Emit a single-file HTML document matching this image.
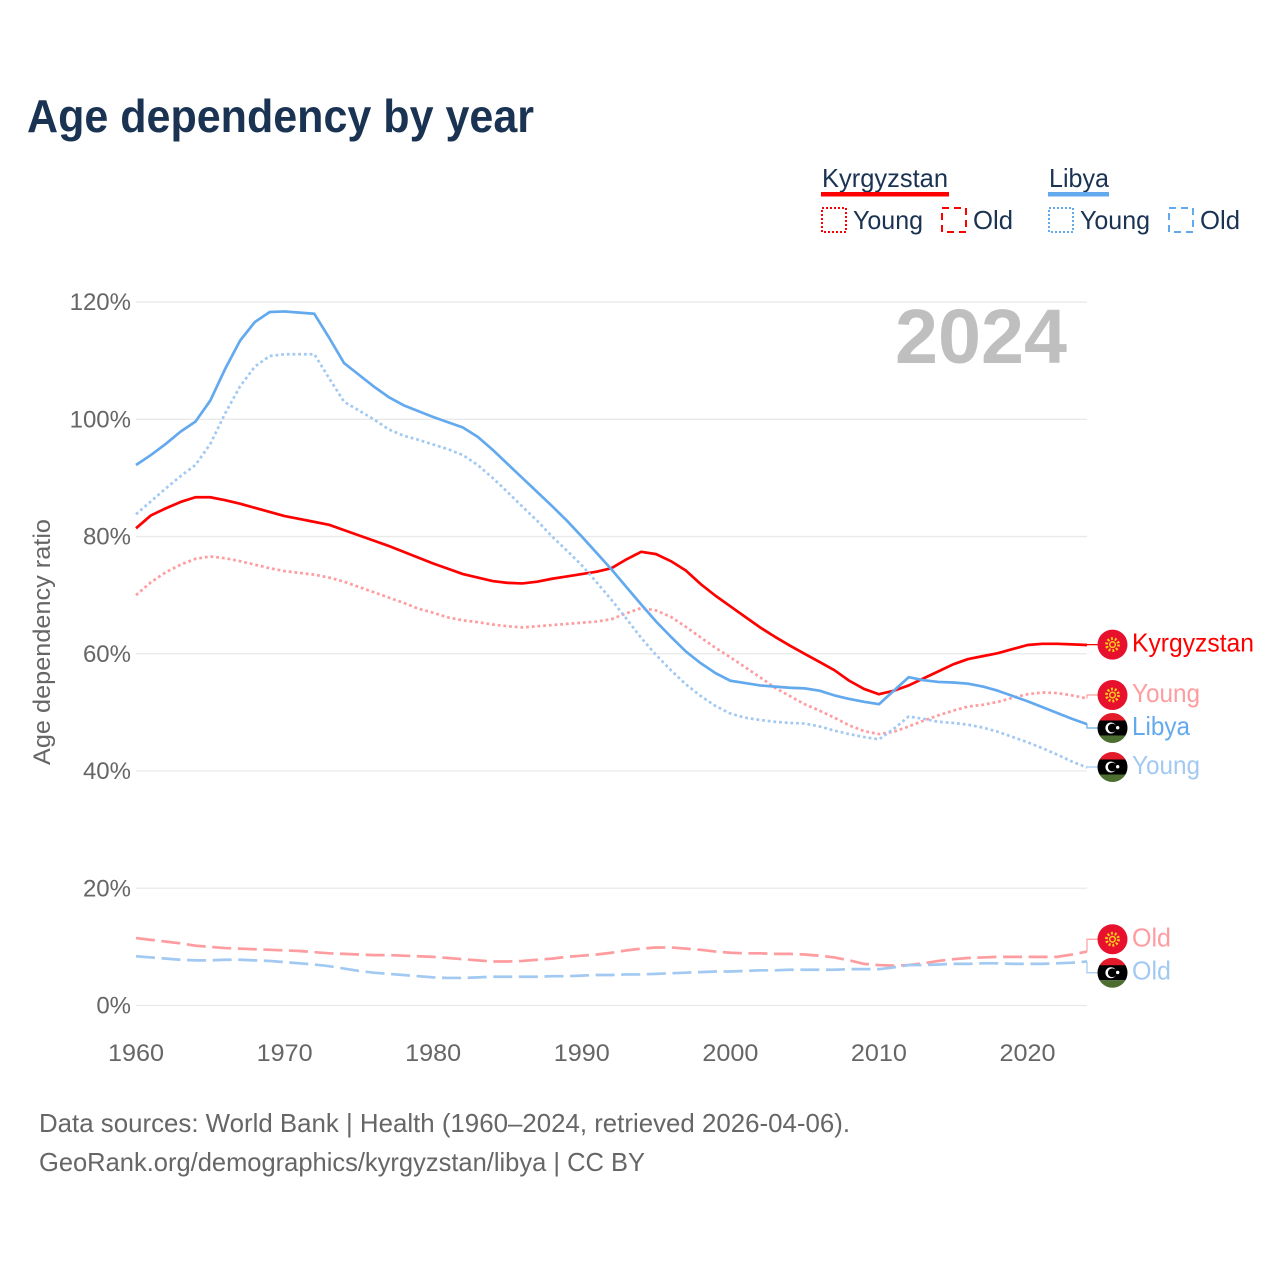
<!DOCTYPE html>
<html lang="en">
<head>
<meta charset="utf-8">
<title>Age dependency by year</title>
<style>
html,body{margin:0;padding:0;background:#fff;}
svg{display:block;font-family:"Liberation Sans",sans-serif;}
</style>
</head>
<body>
<svg id="chart" width="1280" height="1280" viewBox="0 0 1280 1280" xmlns="http://www.w3.org/2000/svg">
  <defs>
    <clipPath id="flag-clip"><circle cx="0" cy="0" r="15"/></clipPath>
    <g id="flag-kg">
      <circle r="15" fill="#e8112d"/>
      <circle r="6" fill="none" stroke="#ffcf1f" stroke-width="2.8" stroke-dasharray="1.9 1.9"/>
      <circle r="2.8" fill="none" stroke="#ffcf1f" stroke-width="1.5"/>
    </g>
    <g id="flag-ly">
      <g clip-path="url(#flag-clip)">
        <rect x="-15" y="-15" width="30" height="8" fill="#e31b2b"/>
        <rect x="-15" y="-7.5" width="30" height="15" fill="#000"/>
        <rect x="-15" y="7.5" width="30" height="8" fill="#4c6e31"/>
        <circle cx="-1.6" cy="0" r="5.5" fill="#fff"/>
        <circle cx="-0.2" cy="0" r="4.4" fill="#000"/>
        <circle cx="5.2" cy="-0.3" r="1.7" fill="#fff"/>
      </g>
    </g>
  </defs>

  <text x="27" y="132" font-size="46" font-weight="700" fill="#1a3353" textLength="507" lengthAdjust="spacingAndGlyphs">Age dependency by year</text>

  <g font-size="26" fill="#1a3353">
    <text x="822" y="187" textLength="126" lengthAdjust="spacingAndGlyphs">Kyrgyzstan</text>
    <rect x="821" y="192" width="128" height="4.5" fill="#ff0000"/>
    <rect x="822" y="208" width="24" height="24" fill="none" stroke="#ff0000" stroke-width="2" stroke-dasharray="2 2"/>
    <text x="853" y="229" textLength="70" lengthAdjust="spacingAndGlyphs">Young</text>
    <rect x="942" y="208" width="24" height="24" fill="none" stroke="#ff0000" stroke-width="2" stroke-dasharray="7 5"/>
    <text x="973" y="229" textLength="40" lengthAdjust="spacingAndGlyphs">Old</text>
    <text x="1049" y="187" textLength="60" lengthAdjust="spacingAndGlyphs">Libya</text>
    <rect x="1048" y="192" width="61" height="4.5" fill="#63a9ee"/>
    <rect x="1049" y="208" width="24" height="24" fill="none" stroke="#63a9ee" stroke-width="2" stroke-dasharray="2 2"/>
    <text x="1080" y="229" textLength="70" lengthAdjust="spacingAndGlyphs">Young</text>
    <rect x="1169" y="208" width="24" height="24" fill="none" stroke="#63a9ee" stroke-width="2" stroke-dasharray="7 5"/>
    <text x="1200" y="229" textLength="40" lengthAdjust="spacingAndGlyphs">Old</text>
  </g>

  <g id="grid"></g>
  <g id="y-ticks"></g>
  <g id="x-ticks"></g>

  <text transform="translate(50,642) rotate(-90)" text-anchor="middle" font-size="24" fill="#666666" textLength="246" lengthAdjust="spacingAndGlyphs">Age dependency ratio</text>

  <text x="895" y="363" font-size="77" font-weight="700" fill="#bfbfbf" textLength="172" lengthAdjust="spacingAndGlyphs">2024</text>

  <g id="series"></g>
  <g id="end-labels"></g>

  <text x="39" y="1132" font-size="26" fill="#666666" textLength="811" lengthAdjust="spacingAndGlyphs">Data sources: World Bank | Health (1960–2024, retrieved 2026-04-06).</text>
  <text x="39" y="1171" font-size="26" fill="#666666" textLength="606" lengthAdjust="spacingAndGlyphs">GeoRank.org/demographics/kyrgyzstan/libya | CC BY</text>
</svg>

<script>
const years = [1960,1961,1962,1963,1964,1965,1966,1967,1968,1969,1970,1971,1972,1973,1974,1975,1976,1977,1978,1979,1980,1981,1982,1983,1984,1985,1986,1987,1988,1989,1990,1991,1992,1993,1994,1995,1996,1997,1998,1999,2000,2001,2002,2003,2004,2005,2006,2007,2008,2009,2010,2011,2012,2013,2014,2015,2016,2017,2018,2019,2020,2021,2022,2023,2024];
const yTickValues = [0,20,40,60,80,100,120];
const xTickValues = [1960,1970,1980,1990,2000,2010,2020];

const kyrgyzstanTotal = [81.4,83.6,84.8,85.9,86.7,86.7,86.2,85.6,84.9,84.2,83.5,83.0,82.5,82.0,81.1,80.2,79.3,78.4,77.4,76.4,75.4,74.5,73.6,73.0,72.4,72.1,72.0,72.3,72.8,73.2,73.6,74.0,74.6,76.1,77.4,77.0,75.8,74.2,71.9,69.9,68.1,66.3,64.5,62.9,61.4,60.0,58.6,57.2,55.4,54.0,53.1,53.7,54.6,55.8,57.0,58.2,59.1,59.6,60.1,60.8,61.5,61.7,61.7,61.6,61.5];
const kyrgyzstanYoung = [70.0,72.2,73.9,75.2,76.2,76.6,76.3,75.8,75.2,74.6,74.1,73.8,73.5,73.0,72.3,71.4,70.5,69.6,68.7,67.7,67.0,66.2,65.7,65.4,65.0,64.7,64.5,64.7,64.9,65.1,65.3,65.5,65.9,66.9,67.8,67.4,66.3,64.6,62.8,61.0,59.4,57.7,56.0,54.2,52.8,51.4,50.3,49.1,47.8,46.8,46.3,46.7,47.6,48.6,49.5,50.3,51.0,51.3,51.8,52.5,53.1,53.4,53.3,52.9,52.4];
const kyrgyzstanOld = [11.5,11.2,10.9,10.6,10.2,10.0,9.8,9.7,9.6,9.5,9.4,9.3,9.1,8.9,8.8,8.7,8.6,8.6,8.5,8.4,8.3,8.1,7.9,7.7,7.5,7.5,7.6,7.8,8.0,8.3,8.5,8.7,9.0,9.4,9.7,9.9,9.9,9.7,9.5,9.2,9.0,8.9,8.9,8.8,8.8,8.7,8.5,8.2,7.7,7.1,6.9,6.8,6.9,7.2,7.6,7.9,8.1,8.2,8.3,8.3,8.3,8.3,8.3,8.7,9.2];
const libyaTotal = [92.2,93.9,95.8,97.9,99.6,103.2,108.6,113.4,116.6,118.3,118.4,118.2,118.0,113.9,109.6,107.6,105.6,103.8,102.4,101.4,100.4,99.5,98.6,97.0,94.8,92.4,90.0,87.6,85.2,82.7,80.0,77.2,74.4,71.4,68.4,65.5,62.9,60.4,58.4,56.7,55.4,55.0,54.6,54.4,54.2,54.1,53.7,52.9,52.3,51.8,51.4,53.7,56.0,55.5,55.2,55.1,54.9,54.4,53.7,52.8,51.9,50.9,49.9,48.9,48.0];
const libyaYoung = [83.8,86.0,88.2,90.3,92.2,95.8,101.0,105.6,109.0,110.8,111.1,111.1,111.1,107.0,103.0,101.5,100.0,98.3,97.2,96.5,95.7,94.9,93.9,92.2,90.0,87.6,85.1,82.7,80.0,77.6,75.1,72.2,69.2,66.0,62.7,59.8,57.2,54.8,52.8,51.1,49.8,49.1,48.7,48.4,48.2,48.1,47.6,46.9,46.3,45.8,45.4,47.2,49.3,48.9,48.4,48.2,47.9,47.4,46.7,45.8,44.9,43.9,42.8,41.6,40.6];
const libyaOld = [8.4,8.2,8.0,7.8,7.7,7.7,7.8,7.8,7.7,7.6,7.4,7.2,7.0,6.7,6.3,5.9,5.6,5.4,5.2,5.0,4.8,4.7,4.7,4.8,4.9,4.9,4.9,4.9,5.0,5.0,5.1,5.2,5.2,5.3,5.3,5.4,5.5,5.6,5.7,5.8,5.8,5.9,6.0,6.0,6.1,6.1,6.1,6.1,6.2,6.2,6.2,6.5,6.9,6.9,7.0,7.1,7.1,7.2,7.2,7.1,7.1,7.1,7.2,7.3,7.5];

const NS = 'http://www.w3.org/2000/svg';
const xScale = year => 136 + (year - 1960) * 14.859;
const yScale = pct => 1005.5 - pct * 5.862;

function make(tag, attrs, parent, text) {
  const el = document.createElementNS(NS, tag);
  for (const k in attrs) el.setAttribute(k, attrs[k]);
  if (text !== undefined) el.textContent = text;
  parent.appendChild(el);
  return el;
}

const grid = document.getElementById('grid');
const yTicks = document.getElementById('y-ticks');
const xTicks = document.getElementById('x-ticks');
const seriesGroup = document.getElementById('series');
const endLabels = document.getElementById('end-labels');

yTickValues.forEach(v => {
  const line = make('line', {x1: 136, x2: 1087, y1: yScale(v), y2: yScale(v), stroke: '#e9e9e9', 'stroke-width': 1.3}, grid);
  
  
  const label = make('text', {x: 131, y: yScale(v) + 8, 'text-anchor': 'end', 'font-size': 24, fill: '#666666'}, yTicks, v + '%');
  
  
});

xTickValues.forEach(v => {
  const label = make('text', {x: xScale(v) - 28, y: 1061, 'font-size': 24, fill: '#666666', textLength: 56, lengthAdjust: 'spacingAndGlyphs'}, xTicks, String(v));
  
  
});

function drawLine(values, color, dash, name) {
  const d = values.map((v, i) => (i ? 'L' : 'M') + xScale(years[i]).toFixed(2) + ' ' + yScale(v).toFixed(2)).join('');
  const attrs = {d: d, fill: 'none', stroke: color, 'stroke-width': 2.7, 'stroke-linejoin': 'round'};
  if (dash) attrs['stroke-dasharray'] = dash;
  const path = make('path', attrs, seriesGroup);
  
  
}

const RED = '#ff0000', RED_LIGHT = '#ff9c9f', BLUE = '#63a9ee', BLUE_LIGHT = '#a2c9f2';
const DOTS = '2.8 2.9', DASHES = '19 6.6';

drawLine(kyrgyzstanOld, RED_LIGHT, DASHES, 'line-kyrgyzstan-old');
drawLine(kyrgyzstanYoung, RED_LIGHT, DOTS, 'line-kyrgyzstan-young');
drawLine(kyrgyzstanTotal, RED, null, 'line-kyrgyzstan-total');
drawLine(libyaOld, BLUE_LIGHT, DASHES, 'line-libya-old');
drawLine(libyaYoung, BLUE_LIGHT, DOTS, 'line-libya-young');
drawLine(libyaTotal, BLUE, null, 'line-libya-total');

function drawEnd(values, labelText, color, flagId, nudge, width, name) {
  const yLast = yScale(values[values.length - 1]);
  const yFlag = yLast + nudge;
  const leader = make('path', {d: 'M1087 ' + yLast.toFixed(2) + 'V' + yFlag.toFixed(2) + 'H1098', fill: 'none', stroke: color, 'stroke-width': 1.2}, endLabels);
  
  
  const flag = make('use', {href: '#' + flagId, transform: 'translate(1112.5,' + yFlag.toFixed(2) + ')'}, endLabels);
  
  
  const label = make('text', {x: 1132, y: (yFlag + 7).toFixed(2), 'font-size': 26, fill: color, textLength: width, lengthAdjust: 'spacingAndGlyphs'}, endLabels, labelText);
  
  
}

drawEnd(kyrgyzstanTotal, 'Kyrgyzstan', RED, 'flag-kg', -0.4, 122, 'end-kyrgyzstan-total');
drawEnd(kyrgyzstanYoung, 'Young', RED_LIGHT, 'flag-kg', -3.3, 68, 'end-kyrgyzstan-young');
drawEnd(libyaTotal, 'Libya', BLUE, 'flag-ly', 3.9, 58, 'end-libya-total');
drawEnd(libyaYoung, 'Young', BLUE_LIGHT, 'flag-ly', -0.5, 68, 'end-libya-young');
drawEnd(kyrgyzstanOld, 'Old', RED_LIGHT, 'flag-kg', -12.3, 39, 'end-kyrgyzstan-old');
drawEnd(libyaOld, 'Old', BLUE_LIGHT, 'flag-ly', 11.2, 39, 'end-libya-old');
</script>
</body>
</html>
